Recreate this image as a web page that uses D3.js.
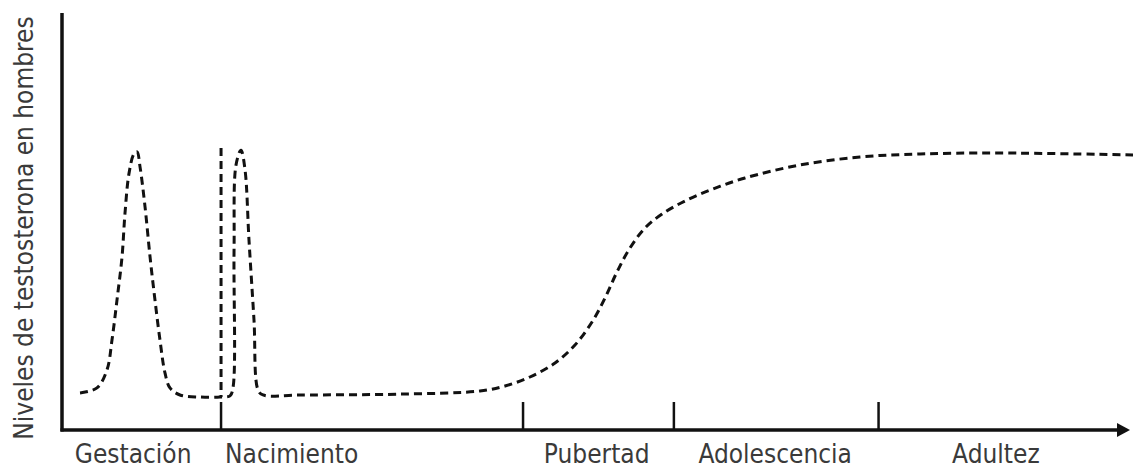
<!DOCTYPE html>
<html><head><meta charset="utf-8">
<script src="https://cdn.jsdelivr.net/npm/d3@7"></script>
<style>body{margin:0;background:#fff}svg{display:block}</style>
</head><body><svg id="c" width="1133" height="471"></svg>
<script>
// Testosterone level curve (abstract units: x = life timeline 0..100, y = level 0..100)
const curveX = [1.69,3.28,4.22,4.69,5.16,5.63,5.91,6.29,6.75,7.04,7.32,7.79,8.26,8.72,9.19,9.66,10.13,11.07,12.95,14.82,15.76,16.04,16.14,16.32,16.79,17.17,17.54,18.01,18.39,18.86,22.3,31.7,39.21,41.56,43.90,46.25,48.12,49.72,50.94,52.06,53.28,54.69,56.29,58.44,61.07,64.07,69.23,74.86,80.49,87.99,100.47];
const curveY = [8.9,10.1,14.4,21.6,31.2,41.5,52.0,61.6,66.2,66.7,63.1,53.5,41.5,31.2,21.6,13.7,10.1,8.4,7.9,7.9,8.2,10.1,43.2,63.5,67.1,62.4,45.6,26.4,9.6,8.4,8.4,8.6,9.35,10.55,12.71,16.07,20.38,25.90,31.65,37.89,43.65,48.44,51.80,54.92,57.79,60.43,63.55,65.47,66.19,66.43,65.95];
// vertical marker at birth
const birthX = 14.92;
const birthSpan = [7.9, 67.6];
// stage boundary ticks
const tickX = [14.92, 43.25, 57.4, 76.6];
// stage labels and their start positions on the timeline
const stageLabels = ["Gestación","Nacimiento","Pubertad","Adolescencia","Adultez"];
const stageStart = [1.2, 15.3, 45.2, 59.7, 83.5];
const yTitle = "Niveles de testosterona en hombres";

const svg = d3.select("#c");
const x = d3.scaleLinear().domain([0,100]).range([62,1128]);
const y = d3.scaleLinear().domain([0,100]).range([430,13]);
const ink = "#111";
const font = "'DejaVu Sans Condensed','DejaVu Sans'";

// curve
const pts = curveX.map((v,i)=>[v,curveY[i]]);
const line = d3.line().x(d=>x(d[0])).y(d=>y(d[1])).curve(d3.curveCatmullRom.alpha(0.5));
svg.append("path").attr("d",line(pts)).attr("fill","none").attr("stroke",ink)
  .attr("stroke-width",3).attr("stroke-dasharray","8,5");
svg.append("line").attr("x1",x(birthX)).attr("x2",x(birthX))
  .attr("y1",y(birthSpan[1])).attr("y2",y(birthSpan[0]))
  .attr("stroke",ink).attr("stroke-width",3).attr("stroke-dasharray","8,5");

// ticks
svg.selectAll(".tk").data(tickX).join("line").attr("class","tk")
  .attr("x1",d=>x(d)).attr("x2",d=>x(d)).attr("y1",y(0)-28).attr("y2",y(0))
  .attr("stroke",ink).attr("stroke-width",2.5);

// axes
svg.append("line").attr("x1",x(0)).attr("x2",x(0)).attr("y1",y(100)).attr("y2",y(0)+1.5)
  .attr("stroke",ink).attr("stroke-width",3.5);
svg.append("line").attr("x1",x(0)-1.5).attr("x2",x(100)-8).attr("y1",y(0)).attr("y2",y(0))
  .attr("stroke",ink).attr("stroke-width",3.5);
const ax = x(100)+2, ay = y(0);
svg.append("path").attr("d",`M${ax},${ay} L${ax-13},${ay-7} L${ax-13},${ay+7} Z`).attr("fill",ink);

// labels
svg.selectAll(".lb").data(stageLabels).join("text").attr("class","lb")
  .attr("x",(d,i)=>x(stageStart[i])).attr("y",463)
  .attr("font-family",font).attr("font-stretch","condensed").attr("font-size",26).attr("fill","#3a3a3a")
  .text(d=>d);
svg.append("text").attr("transform",`translate(33,228) rotate(-90)`)
  .attr("text-anchor","middle").attr("font-family",font).attr("font-stretch","condensed").attr("font-size",26)
  .attr("fill","#3a3a3a").text(yTitle);
</script></body></html>
